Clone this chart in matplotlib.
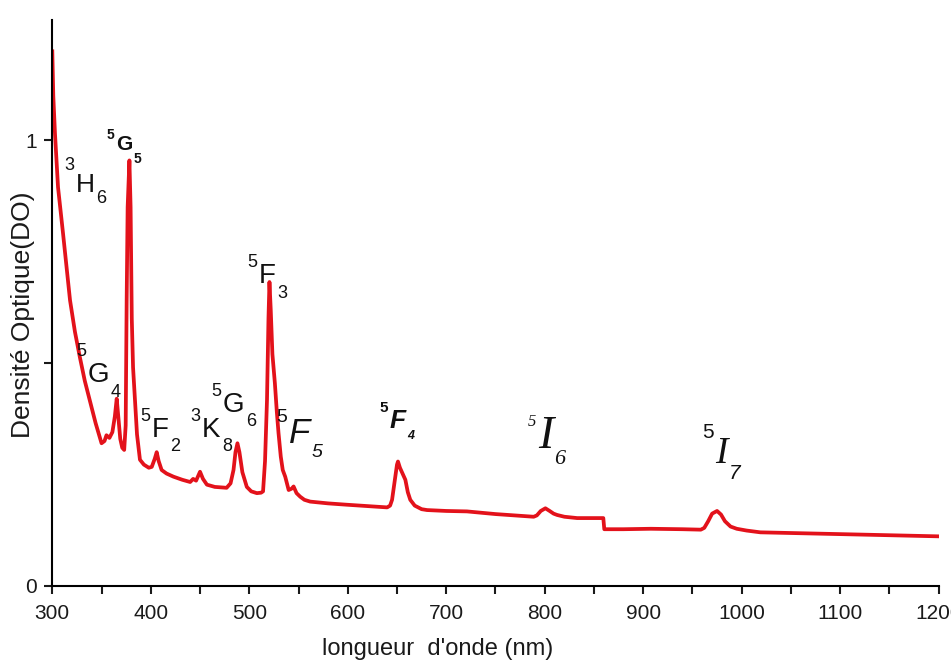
import matplotlib
matplotlib.use('Agg')
import matplotlib.pyplot as plt
from matplotlib.ticker import MultipleLocator, FixedLocator

plt.rcParams['font.family'] = ['Liberation Sans', 'DejaVu Sans']

# absorption spectrum
wavelength = [300, 301, 302.7, 305.8, 310.9, 318, 323, 328, 333, 338, 344, 350, 353, 355, 358,
              361, 363.5, 365.4, 367, 369, 371, 373, 374.5, 375.5, 376.5, 378.3, 379.5, 380.7,
              382, 384, 386, 389, 393, 398, 401, 404, 406, 408, 411, 416, 423, 432, 440, 443,
              446, 450, 453, 457, 465, 477, 481, 484, 486, 488, 490, 493, 497.5, 502, 507.7,
              512, 514, 516, 518, 519.5, 520.5, 521.8, 523.5, 526, 528, 529.7, 532, 534, 536.5,
              540, 543, 545, 548, 551.7, 556, 561.9, 580, 599, 620, 640, 643, 645, 648, 650,
              651, 653, 656, 658.5, 661, 663.5, 668, 675, 680.5, 700, 721, 750, 770, 788.8,
              792, 796, 800.7, 805, 809, 812.6, 820, 833, 845, 858.3, 859.5, 860.5, 880, 907.7,
              940, 958.5, 962, 966, 970, 975, 979, 983, 988.7, 995, 1005, 1019, 1040, 1076.8,
              1120, 1160, 1200]
density = [1.20, 1.10, 1.016, 0.895, 0.791, 0.641, 0.57, 0.513, 0.46, 0.417, 0.365, 0.32, 0.325,
           0.338, 0.332, 0.345, 0.38, 0.42, 0.38, 0.33, 0.31, 0.305, 0.36, 0.64, 0.85, 0.955,
           0.85, 0.60, 0.49, 0.417, 0.34, 0.283, 0.272, 0.265, 0.267, 0.285, 0.30, 0.28, 0.26,
           0.252, 0.245, 0.238, 0.233, 0.24, 0.236, 0.256, 0.24, 0.227, 0.222, 0.22, 0.23, 0.26,
           0.30, 0.32, 0.30, 0.255, 0.222, 0.212, 0.208, 0.209, 0.212, 0.28, 0.417, 0.60, 0.682,
           0.62, 0.52, 0.455, 0.39, 0.343, 0.29, 0.26, 0.245, 0.215, 0.218, 0.223, 0.208, 0.20,
           0.193, 0.189, 0.185, 0.182, 0.179, 0.176, 0.18, 0.193, 0.24, 0.272, 0.279, 0.265,
           0.25, 0.238, 0.21, 0.193, 0.18, 0.172, 0.170, 0.168, 0.167, 0.161, 0.158, 0.155,
           0.158, 0.168, 0.174, 0.168, 0.162, 0.159, 0.155, 0.152, 0.152, 0.152, 0.152, 0.127,
           0.127, 0.128, 0.127, 0.126, 0.13, 0.145, 0.162, 0.168, 0.16, 0.145, 0.133, 0.128,
           0.124, 0.120, 0.119, 0.117, 0.115, 0.113, 0.111]

x_ticks = [300, 400, 500, 600, 700, 800, 900, 1000, 1100, 1200]
y_ticks = [0, 0.5, 1]
y_tick_labels = ['0', '', '1']

sans = {'family': 'Liberation Sans'}
serif_it = {'family': 'Liberation Serif', 'style': 'italic'}
bold = dict(sans, weight='bold')

# transitions: x, baseline y, sup, letter, sub, letter font, size,
#              sup font, sup size, sup raise (pt), sub font, sub size, sub shift (pt)
terms = [
    (333.7, 0.883, '3', 'H', '6', sans, 19, sans, 13, 12, sans, 13, 3),
    (373.0, 0.978, '5', 'G', '5', bold, 15, bold, 10, 5, bold, 10, 0),
    (347.0, 0.457, '5', 'G', '4', sans, 20, sans, 13, 14, sans, 13, 0),
    (410.0, 0.334, '5', 'F', '2', sans, 20, sans, 13, 6.5, sans, 13, 0),
    (461.3, 0.334, '3', 'K', '8', sans, 20, sans, 13, 6.5, sans, 13, 0),
    (484.0, 0.390, '5', 'G', '6', sans, 20, sans, 13, 6.5, sans, 13, 0),
    (518.2, 0.679, '5', 'F', '3', sans, 20, sans, 13, 6.5, sans, 13, 0),
    (550.7, 0.321, '5', 'F', '5', dict(sans, style='italic'), 25, sans, 14, 6, dict(sans, style='italic'), 14, 0),
    (650.8, 0.354, '5', 'F', '4', dict(bold, style='italic'), 19, bold, 11, 6, dict(bold, style='italic'), 9, 0),
    (800.7, 0.309, '5', 'I', '6', serif_it, 33, serif_it, 12, 1, serif_it, 16, 0),
    (979.5, 0.276, '5', 'I', '7', serif_it, 27, sans, 15, 9, dict(sans, style='italic'), 15, 0),
]

fig = plt.figure(figsize=(9.51, 6.71), dpi=100)
ax = fig.add_axes([0.055, 0.127, 0.932, 0.843])

ax.plot(wavelength, density, color='#e3121b', lw=2.7, solid_joinstyle='round')

ax.set_xlim(300, 1200)
ax.set_ylim(0, 1.27)
ax.spines['top'].set_visible(False)
ax.spines['right'].set_visible(False)
for s in ['left', 'bottom']:
    ax.spines[s].set_linewidth(1.5)

ax.xaxis.set_major_locator(FixedLocator(x_ticks))
ax.xaxis.set_minor_locator(MultipleLocator(50))
ax.set_yticks(y_ticks)
ax.set_yticklabels(y_tick_labels)
ax.tick_params(axis='both', which='both', direction='out', length=6, width=1.5,
               labelsize=15, colors='#1a1a1a')
ax.tick_params(axis='x', pad=7)
ax.tick_params(axis='y', pad=5)

ax.set_xlabel("longueur  d'onde (nm)", fontsize=17, color='#1a1a1a')
ax.xaxis.set_label_coords(0.435, -0.093)
ax.set_ylabel('Densité Optique(DO)', fontsize=19, color='#1a1a1a')
ax.yaxis.set_label_coords(-0.02, 0.479)

for x, yb, sup, main, sub, mfont, msize, pfont, psize, raise_, bfont, bsize, shift in terms:
    t = ax.text(x, yb, main, ha='center', va='baseline', fontsize=msize, color='#111111', **mfont)
    ax.annotate(sup, xy=(0, yb), xycoords=(t, 'data'), xytext=(-1, 0.72 * msize + raise_),
                textcoords='offset points', ha='right', va='top', fontsize=psize,
                color='#111111', **pfont)
    ax.annotate(sub, xy=(1, yb), xycoords=(t, 'data'), xytext=(1, shift - 1),
                textcoords='offset points', ha='left', va='top', fontsize=bsize,
                color='#111111', **bfont)

fig.savefig('out.png', dpi=100)
